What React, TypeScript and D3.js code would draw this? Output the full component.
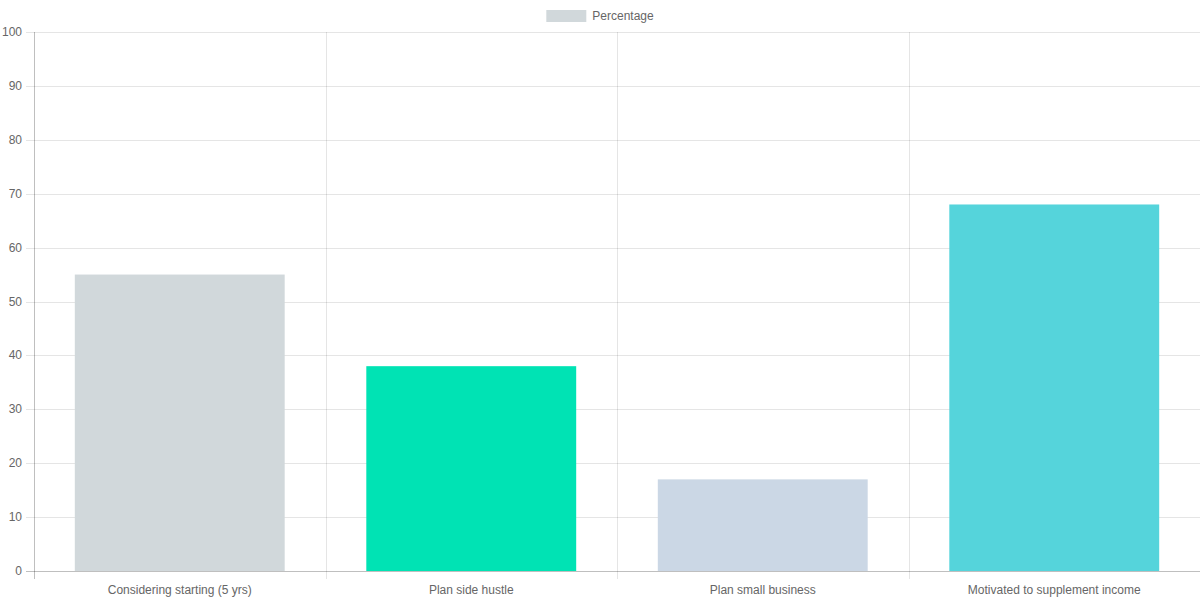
import { useEffect, useRef } from "react";
import * as d3 from "d3";

const categories = [
  "Considering starting (5 yrs)",
  "Plan side hustle",
  "Plan small business",
  "Motivated to supplement income",
];
const percentages = [55, 38, 17, 68];
const barColors = ["#d1d8db", "#00e3b4", "#cbd7e5", "#55d4db"];
const yTicks = [0, 10, 20, 30, 40, 50, 60, 70, 80, 90, 100];
const seriesName = "Percentage";

export default function App() {
  const svgRef = useRef<SVGSVGElement>(null);

  useEffect(() => {
    if (!svgRef.current) return;
    const width = 1200;
    const height = 600;
    const margin = { top: 32, right: 0, bottom: 29, left: 34 };

    const svg = d3.select(svgRef.current);
    svg.selectAll("*").remove();
    svg.attr("viewBox", `0 0 ${width} ${height}`);

    const font = "'Liberation Sans', Arial, Helvetica, sans-serif";
    const gridColor = "rgba(0,0,0,0.1)";

    const x = d3.scaleBand()
      .domain(categories)
      .range([margin.left, width - margin.right]);
    const y = d3.scaleLinear()
      .domain([0, 100])
      .range([height - margin.bottom, margin.top]);

    // horizontal grid + tick marks
    yTicks.forEach(t => {
      const yy = Math.round(y(t)) + 0.5;
      svg.append("line")
        .attr("x1", margin.left - 8).attr("x2", width)
        .attr("y1", yy).attr("y2", yy)
        .attr("stroke", t === 0 ? "rgba(0,0,0,0.25)" : gridColor);
      svg.append("text")
        .attr("x", margin.left - 12)
        .attr("y", yy)
        .attr("text-anchor", "end")
        .attr("dominant-baseline", "middle")
        .style("font-family", font)
        .style("font-size", "12px")
        .style("fill", "#666")
        .text(t);
    });

    // vertical grid lines at category boundaries
    categories.forEach((c, i) => {
      const xx = Math.round(x(c)!) + 0.5;
      svg.append("line")
        .attr("x1", xx).attr("x2", xx)
        .attr("y1", margin.top).attr("y2", height - margin.bottom + 8)
        .attr("stroke", i === 0 ? "rgba(0,0,0,0.25)" : gridColor);
    });

    // bars
    const barW = x.bandwidth() * 0.72;
    svg.append("g")
      .selectAll("rect")
      .data(percentages)
      .join("rect")
      .attr("x", (_, i) => x(categories[i])! + (x.bandwidth() - barW) / 2)
      .attr("y", d => y(d))
      .attr("width", barW)
      .attr("height", d => y(0) - y(d))
      .attr("fill", (_, i) => barColors[i]);

    // x labels
    categories.forEach(c => {
      svg.append("text")
        .attr("x", x(c)! + x.bandwidth() / 2)
        .attr("y", height - margin.bottom + 20)
        .attr("text-anchor", "middle")
        .attr("dominant-baseline", "middle")
        .style("font-family", font)
        .style("font-size", "12px")
        .style("fill", "#666")
        .text(c);
    });

    // legend
    const legendText = svg.append("text")
      .attr("x", 0)
      .attr("y", 17)
      .attr("dominant-baseline", "middle")
      .style("font-family", font)
      .style("font-size", "12px")
      .style("fill", "#666")
      .text(seriesName);
    const tw = (legendText.node() as SVGTextElement).getComputedTextLength();
    const total = 40 + 6 + tw;
    const lx = (width - total) / 2;
    svg.append("rect")
      .attr("x", lx).attr("y", 10)
      .attr("width", 40).attr("height", 12)
      .attr("fill", barColors[0]);
    legendText.attr("x", lx + 46);
  }, []);

  return (
    <svg
      ref={svgRef}
      width={1200}
      height={600}
      style={{ position: "absolute", left: 0, top: 0, background: "#fff" }}
    />
  );
}
